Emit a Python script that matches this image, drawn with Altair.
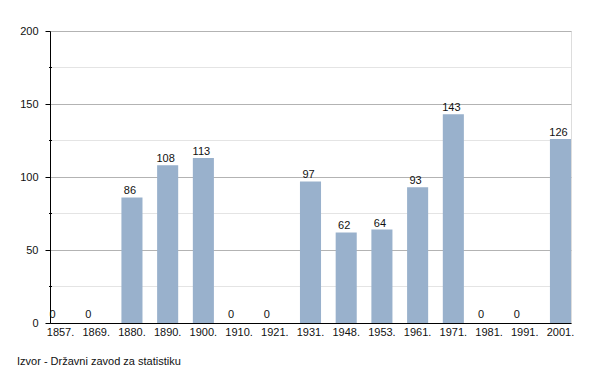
import altair as alt
import pandas as pd

years = ["1857.", "1869.", "1880.", "1890.", "1900.", "1910.", "1921.", "1931.",
         "1948.", "1953.", "1961.", "1971.", "1981.", "1991.", "2001."]
values = [0, 0, 86, 108, 113, 0, 0, 97, 62, 64, 93, 143, 0, 0, 126]
major_ticks = [0, 50, 100, 150, 200]
minor_ticks = [25, 75, 125, 175]
footer = "Izvor - Državni zavod za statistiku"

FONT = "Liberation Sans"
W, H = 521, 292

df = pd.DataFrame({"year": years, "value": values})
minor_df = pd.DataFrame({"v": minor_ticks})

yscale = alt.Scale(domain=[0, 200], nice=False)
xscale = alt.Scale(paddingInner=0.41, paddingOuter=0)

x_enc = alt.X("year:N", sort=years, scale=xscale, title=None,
              axis=alt.Axis(labelAngle=0, ticks=False, domainColor="#000000",
                            labelFontSize=11, labelFont=FONT, labelColor="#111111",
                            labelPadding=3, domainWidth=1))

minor_grid = alt.Chart(minor_df).mark_rule(color="#e4e4e4", strokeWidth=1).encode(
    y=alt.Y("v:Q", scale=yscale),
    x=alt.value(0), x2=alt.value(W)
)
minor_tick = alt.Chart(minor_df).mark_rule(color="#000000", strokeWidth=1).encode(
    y=alt.Y("v:Q", scale=yscale),
    x=alt.value(-1), x2=alt.value(2)
)

bars = alt.Chart(df).mark_bar(color="#99b1cc").encode(
    x=x_enc,
    y=alt.Y("value:Q", scale=yscale, title=None,
            axis=alt.Axis(values=major_ticks, grid=True, gridColor="#b3b3b3",
                          domainColor="#000000", tickColor="#000000", tickSize=5,
                          labelFontSize=11, labelFont=FONT, labelColor="#111111",
                          labelPadding=7))
)

labels_nz = alt.Chart(df).transform_filter("datum.value > 0").mark_text(
    fontSize=11, font=FONT, color="#111111", baseline="alphabetic", dy=-3, dx=-2
).encode(x=alt.X("year:N", sort=years, scale=xscale), y=alt.Y("value:Q", scale=yscale),
         text="value:Q")

labels_z = alt.Chart(df).transform_filter("datum.value == 0").mark_text(
    fontSize=11, font=FONT, color="#111111", baseline="alphabetic", dy=-5, dx=-8
).encode(x=alt.X("year:N", sort=years, scale=xscale), y=alt.Y("value:Q", scale=yscale),
         text="value:Q")

foot = alt.Chart(pd.DataFrame({"t": [footer]})).mark_text(
    fontSize=11, font=FONT, color="#111111", align="left", baseline="middle"
).encode(text="t:N", x=alt.value(-33), y=alt.value(331))

chart = alt.layer(minor_grid, bars, minor_tick, labels_nz, labels_z, foot).properties(
    width=W, height=H,
    autosize=alt.AutoSizeParams(type="none"),
    padding={"left": 42, "top": 23, "right": 20, "bottom": 50}
).configure_view(stroke=None).configure(background="white")

chart.save("out.html", embed_options={"renderer": "svg", "actions": False})
